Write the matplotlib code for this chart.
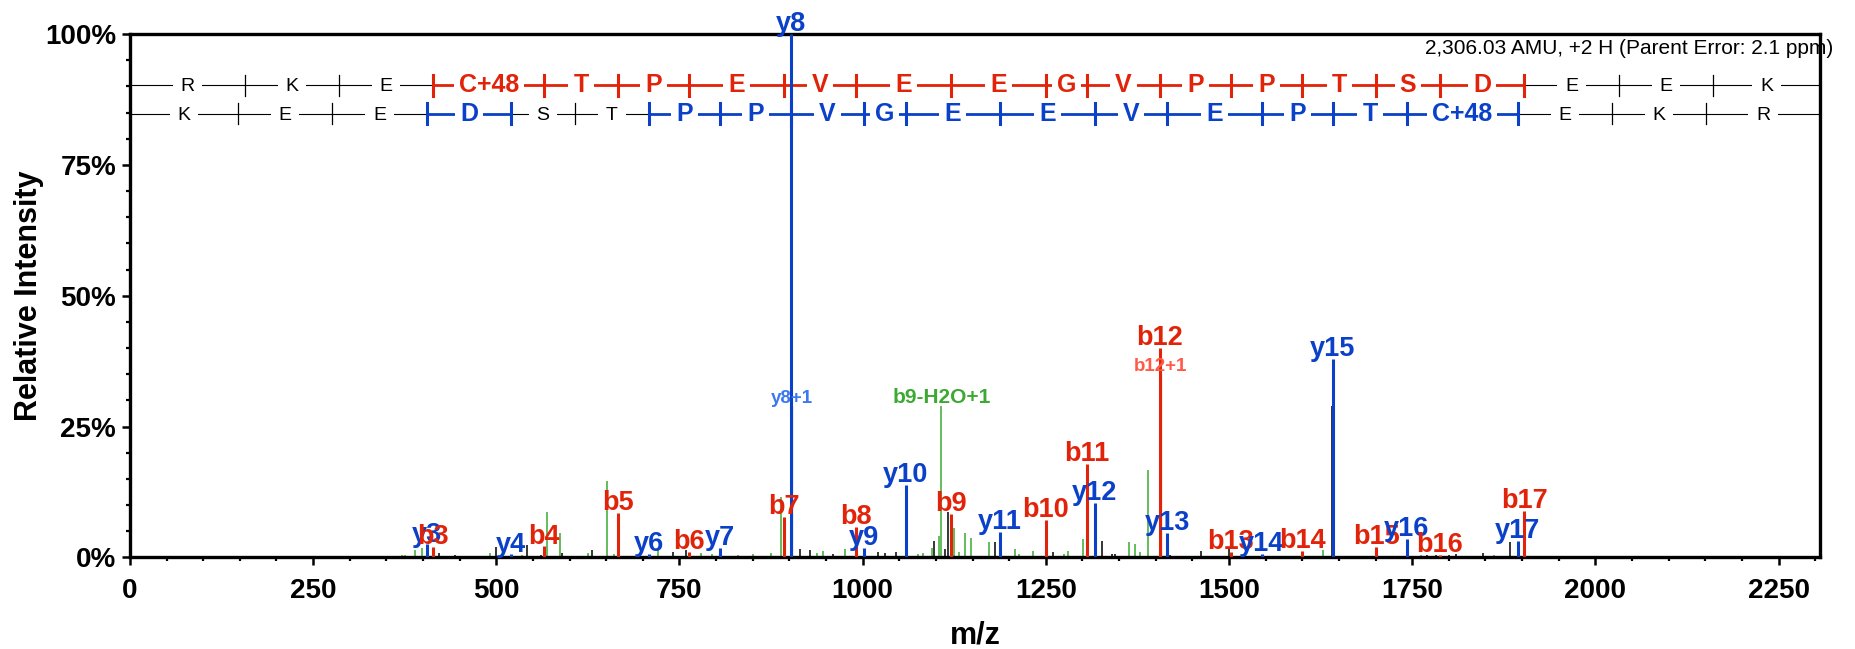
import matplotlib.pyplot as plt
from matplotlib.ticker import MultipleLocator, FuncFormatter

plt.rcParams['font.family'] = ['Liberation Sans', 'DejaVu Sans']

XMAX = 2306.5
title = '2,306.03 AMU, +2 H (Parent Error: 2.1 ppm)'

# peptide ladder
residues = ['R', 'K', 'E', 'C+48', 'T', 'P', 'E', 'V', 'E', 'E', 'G', 'V', 'P', 'P', 'T', 'S', 'D', 'E', 'E', 'K']
b_mz = [157.11, 285.20, 414.25, 565.24, 666.29, 763.34, 892.38, 991.45, 1120.50, 1249.54,
        1306.56, 1405.63, 1502.68, 1599.73, 1700.78, 1787.81, 1902.84, 2031.88, 2160.93]
b_seen = [False, False, True, True, True, True, True, True, True, True,
          True, True, True, True, True, True, True, False, False]
y_mz = [147.11, 276.16, 405.20, 520.23, 607.26, 708.31, 805.36, 902.41, 1001.48, 1058.50,
        1187.54, 1316.59, 1415.66, 1544.70, 1641.75, 1742.80, 1893.79, 2022.84, 2150.93]
y_seen = [False, False, True, True, False, True, True, True, True, True,
          True, True, True, True, True, True, True, False, False]

# labelled fragment peaks
ion_labels = ['y3', 'b3', 'y4', 'b4', 'b5', 'y6', 'b6', 'y7', 'b7', 'y8', 'b8', 'y9', 'y10', 'b9', 'y11',
              'b10', 'b11', 'y12', 'b12', 'y13', 'b13', 'y14', 'b14', 'y15', 'b15', 'y16', 'b16', 'y17', 'b17']
ion_mz = [405.20, 414.25, 520.23, 565.24, 666.29, 708.31, 763.34, 805.36, 892.38, 902.41, 991.45, 1001.48,
          1058.50, 1120.50, 1187.54, 1249.54, 1306.56, 1316.59, 1405.63, 1415.66, 1502.68, 1544.70,
          1599.73, 1641.75, 1700.78, 1742.80, 1787.81, 1893.79, 1902.84]
ion_int = [2.5, 2.0, 0.6, 2.1, 8.5, 0.7, 1.0, 1.8, 7.8, 100, 5.8, 1.8, 13.9, 8.3, 4.9,
           7.2, 17.9, 10.4, 40.0, 4.7, 1.0, 0.7, 1.2, 38.0, 2.0, 3.5, 0.5, 3.2, 8.9]

# small labelled peaks (isotopes / neutral loss)
extra_labels = ['y8+1', 'b12+1', 'b9-H2O+1']
extra_mz = [903.41, 1406.63, 1107.5]
extra_int = [29.0, 35.0, 29.0]
extra_colors = ['#3c78f0', '#ff5a46', '#3caa32']
extra_sizes = [13.5, 13.5, 15]

# unlabelled peaks
green_mz = [371, 376, 389, 398.7, 492, 535, 569, 587, 625, 651, 660, 721, 780, 795, 830, 850, 875, 888,
            938, 946, 976, 1060, 1075, 1082, 1094, 1104, 1125, 1132, 1139, 1148, 1172, 1208, 1214,
            1233, 1275, 1280, 1301, 1363, 1372, 1378, 1389, 1628, 1762, 1861]
green_int = [0.4, 0.4, 1.5, 1.9, 0.8, 0.5, 8.7, 4.6, 0.8, 14.6, 0.6, 1.4, 0.8, 0.6, 0.5, 0.7, 0.8, 11.6,
             0.9, 1.2, 1.7, 1.0, 0.6, 0.8, 1.9, 4.1, 5.7, 1.0, 4.6, 3.8, 2.9, 1.6, 0.6,
             1.3, 0.6, 1.3, 3.5, 2.9, 2.5, 1.0, 16.7, 1.5, 0.5, 0.5]
black_mz = [422, 444, 500, 542, 561, 590, 631, 741, 759, 915, 928, 960, 1021, 1030, 1045, 1098, 1112,
            1117, 1181, 1260, 1326, 1340, 1345, 1420, 1462, 1500, 1640.4, 1770, 1783, 1800, 1810,
            1847, 1884]
black_int = [0.8, 0.4, 2.0, 2.4, 0.5, 0.8, 1.4, 1.1, 1.4, 1.7, 1.5, 0.6, 1.0, 0.8, 1.0, 3.2, 1.6,
             8.6, 2.9, 1.0, 3.2, 0.6, 0.6, 0.5, 1.3, 1.9, 29.0, 0.5, 0.5, 0.5, 0.6,
             0.8, 3.0]

RED = '#e1230a'
BLUE = '#0a41c8'
GREEN = '#3caa32'

fig = plt.figure(figsize=(18.56, 6.49), dpi=100)
ax = fig.add_axes([0.070, 0.141, 0.9106, 0.8066])

ax.vlines(green_mz, 0, green_int, colors=GREEN, linewidth=1.1, zorder=2)
ax.vlines(black_mz, 0, black_int, colors='black', linewidth=1.1, zorder=2)
for lab, mz, it, c, fs in zip(extra_labels, extra_mz, extra_int, extra_colors, extra_sizes):
    ax.vlines(mz, 0, it, colors=c, linewidth=1.6 if c != GREEN else 1.1, zorder=2.5)
    ax.annotate(lab, (mz, it), xytext=(0, 2), textcoords='offset points', ha='center',
                va='baseline', color=c, fontsize=fs, fontweight='bold', zorder=5)

for lab, mz, it in zip(ion_labels, ion_mz, ion_int):
    c = RED if lab[0] == 'b' else BLUE
    ax.vlines(mz, 0, it, colors=c, linewidth=2.2, zorder=3)
    ax.annotate(lab, (mz, it), xytext=(0, 2), textcoords='offset points', ha='center',
                va='baseline', color=c, fontsize=19.5, fontweight='bold', zorder=5,
                annotation_clip=False)


def draw_ladder(ypos, letters, ions, seen, color):
    edges = [0] + ions + [XMAX]
    ok = [False] + seen + [False]
    for i, letter in enumerate(letters):
        x0, x1 = edges[i], edges[i + 1]
        on = ok[i] and ok[i + 1]
        c = color if on else 'black'
        ax.plot([x0, x1], [ypos, ypos], color=c, lw=2.0 if on else 0.8,
                solid_capstyle='butt', zorder=2.8, clip_on=False)
        if on:
            ax.text((x0 + x1) / 2, ypos, letter, ha='center', va='center', color=c,
                    fontsize=18, fontweight='bold', zorder=4,
                    bbox=dict(facecolor='white', edgecolor='none', boxstyle='square,pad=0.2'))
        else:
            ax.text((x0 + x1) / 2, ypos - 0.3, letter, ha='center', va='center', color=c,
                    fontsize=14, zorder=4,
                    bbox=dict(facecolor='white', edgecolor='none', boxstyle='square,pad=0.4'))
    for x, s in zip(ions, seen):
        ax.plot([x, x], [ypos - 2.0, ypos + 2.0], color=color if s else 'black',
                lw=2.2 if s else 0.9, zorder=4.5)


draw_ladder(90.2, residues, b_mz, b_seen, RED)
draw_ladder(84.8, residues[::-1], y_mz, y_seen, BLUE)

ax.text(2324, 97.2, title, ha='right', va='center', fontsize=15, clip_on=False, zorder=6)

ax.set_xlim(0, XMAX)
ax.set_ylim(0, 100)
ax.xaxis.set_major_locator(MultipleLocator(250))
ax.xaxis.set_minor_locator(MultipleLocator(50))
ax.yaxis.set_major_locator(MultipleLocator(25))
ax.yaxis.set_minor_locator(MultipleLocator(5))
ax.yaxis.set_major_formatter(FuncFormatter(lambda v, p: '%d%%' % v))

for s in ax.spines.values():
    s.set_linewidth(2.4)
ax.tick_params(which='major', direction='out', length=6, width=1.8, labelsize=20)
ax.tick_params(which='minor', direction='out', length=3, width=1.6)
ax.tick_params(axis='x', which='major', pad=9)
ax.tick_params(axis='y', which='major', pad=4)
for lbl in ax.get_xticklabels() + ax.get_yticklabels():
    lbl.set_fontweight('bold')

ax.set_xlabel('m/z', fontsize=22, fontweight='bold', labelpad=12)
ax.set_ylabel('Relative Intensity', fontsize=22, fontweight='bold', labelpad=1)

fig.savefig('out.png', dpi=100)
